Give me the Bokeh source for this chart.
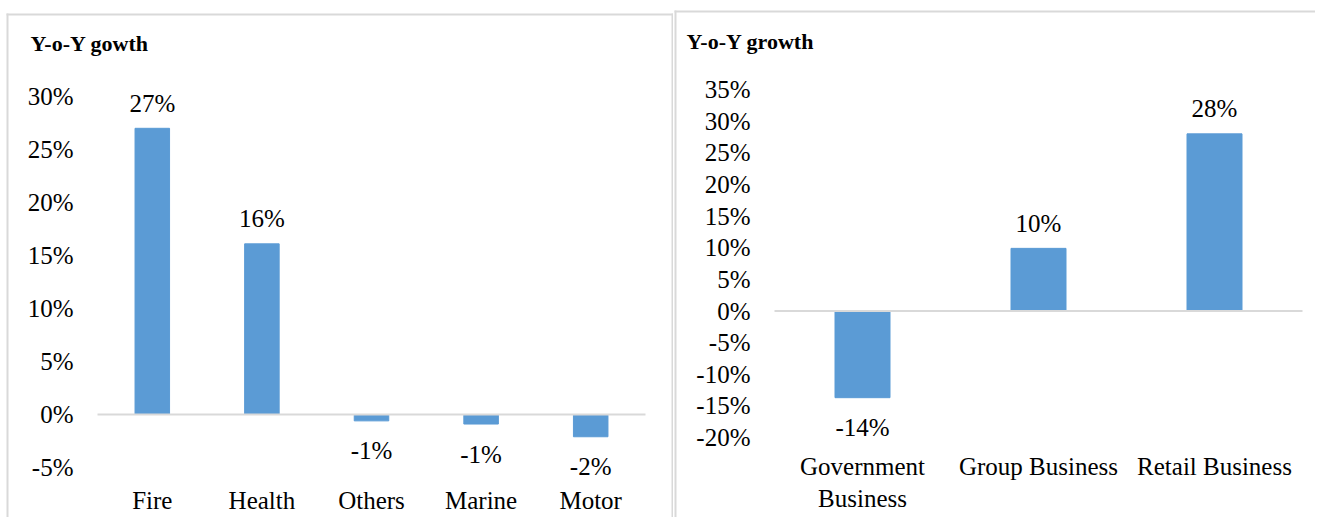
from bokeh.plotting import figure
from bokeh.models import (Range1d, FixedTicker, PrintfTickFormatter,
                          BoxAnnotation, Label)
from bokeh.core.properties import value
from bokeh.layouts import row
from bokeh.embed import file_html
from bokeh.resources import INLINE

# ---- data ----
left_title = "Y-o-Y gowth"
left_cats = ["Fire", "Health", "Others", "Marine", "Motor"]
left_vals = [27.0, 16.1, -0.6, -0.9, -2.1]
left_ticks = [-5, 0, 5, 10, 15, 20, 25, 30]

right_title = "Y-o-Y growth"
right_cats = ["Government\nBusiness", "Group Business", "Retail Business"]
right_vals = [-13.7, 9.9, 28.0]
right_ticks = [-20, -15, -10, -5, 0, 5, 10, 15, 20, 25, 30, 35]

BAR = "#5B9BD5"
GRAY = "#D9D9D9"
FONT = "Liberation Serif"
FS = "25px"
H = 517


def make_panel(title, cats, vals, ticks, width, plot_left, plot_right, y_zero_px,
               px_per_pct, bar_w, x_standoff, title_px, border_px, sides):
    n = len(cats)
    ppu = (plot_right - plot_left) / n           # pixels per category
    x0 = -plot_left / ppu
    x1 = x0 + width / ppu
    y_top = y_zero_px / px_per_pct
    y_bot = y_top - H / px_per_pct

    def dx(px):
        return x0 + px / ppu

    def dy(py):
        return y_top - py / px_per_pct

    p = figure(x_range=Range1d(x0, x1), y_range=Range1d(y_bot, y_top),
               width=width, height=H, output_backend="svg", toolbar_location=None,
               min_border=0, min_border_left=0, min_border_right=0,
               min_border_top=0, min_border_bottom=0)
    p.outline_line_color = None
    p.xgrid.visible = False
    p.ygrid.visible = False

    # panel frame lines
    bl, bt, br = border_px
    if "left" in sides:
        p.add_layout(BoxAnnotation(left=dx(bl - 1), right=dx(bl + 1), top=dy(bt - 1),
                                   bottom=y_bot - 50, fill_color=GRAY, fill_alpha=1,
                                   line_color=None))
    if "right" in sides:
        p.add_layout(BoxAnnotation(left=dx(br - 1), right=dx(br + 1), top=dy(bt - 1),
                                   bottom=y_bot - 50, fill_color=GRAY, fill_alpha=1,
                                   line_color=None))
    p.add_layout(BoxAnnotation(left=dx(bl - 1), right=(dx(br + 1) if "right" in sides else x1 + 5),
                               top=dy(bt - 1), bottom=dy(bt + 1), fill_color=GRAY,
                               fill_alpha=1, line_color=None))

    xpos = [i + 0.5 for i in range(n)]
    p.vbar(x=xpos, top=vals, width=bar_w, color=BAR, line_color=BAR)
    p.line(x=[0, n], y=[0, 0], line_color=GRAY, line_width=2)

    for sign, off in ((1, -25), (-1, 30)):
        xs = [x for x, v in zip(xpos, vals) if v * sign >= 0]
        ys = [v for v in vals if v * sign >= 0]
        p.text(x=xs, y=ys, text=[f"{round(v):d}%" for v in ys], y_offset=off,
               text_align="center", text_baseline="middle",
               text_font=value(FONT), text_font_size=FS, text_color="black")

    p.add_layout(Label(x=dx(title_px[0]), y=dy(title_px[1]), text=title,
                       text_align="left", text_baseline="middle",
                       text_font=FONT, text_font_style="bold",
                       text_font_size="22px", text_color="black"))

    ya = p.yaxis[0]
    ya.fixed_location = 0
    ya.ticker = FixedTicker(ticks=ticks)
    ya.formatter = PrintfTickFormatter(format="%d%%")
    ya.axis_line_color = None
    ya.major_tick_line_color = None
    ya.minor_tick_line_color = None
    ya.major_label_standoff = 18
    ya.major_label_text_font = FONT
    ya.major_label_text_font_size = FS
    ya.major_label_text_color = "black"

    xa = p.xaxis[0]
    xa.fixed_location = min(ticks)
    xa.ticker = FixedTicker(ticks=xpos)
    xa.major_label_overrides = {x: c for x, c in zip(xpos, cats)}
    xa.axis_line_color = None
    xa.major_tick_line_color = None
    xa.minor_tick_line_color = None
    xa.major_label_standoff = x_standoff
    xa.major_label_text_font = FONT
    xa.major_label_text_font_size = FS
    xa.major_label_text_color = "black"
    return p


p1 = make_panel(left_title, left_cats, left_vals, left_ticks, width=673,
                plot_left=97, plot_right=645, y_zero_px=414, px_per_pct=10.6,
                bar_w=0.315, x_standoff=13, title_px=(30, 43),
                border_px=(7, 14, 672), sides=("left", "right"))

p2 = make_panel(right_title, right_cats, right_vals, right_ticks, width=642,
                plot_left=101, plot_right=629, y_zero_px=310.5, px_per_pct=6.327,
                bar_w=0.3125, x_standoff=9, title_px=(13, 41),
                border_px=(2, 11, 700), sides=("left",))

layout = row(p1, p2)
open("out.html", "w").write(file_html(layout, INLINE))
